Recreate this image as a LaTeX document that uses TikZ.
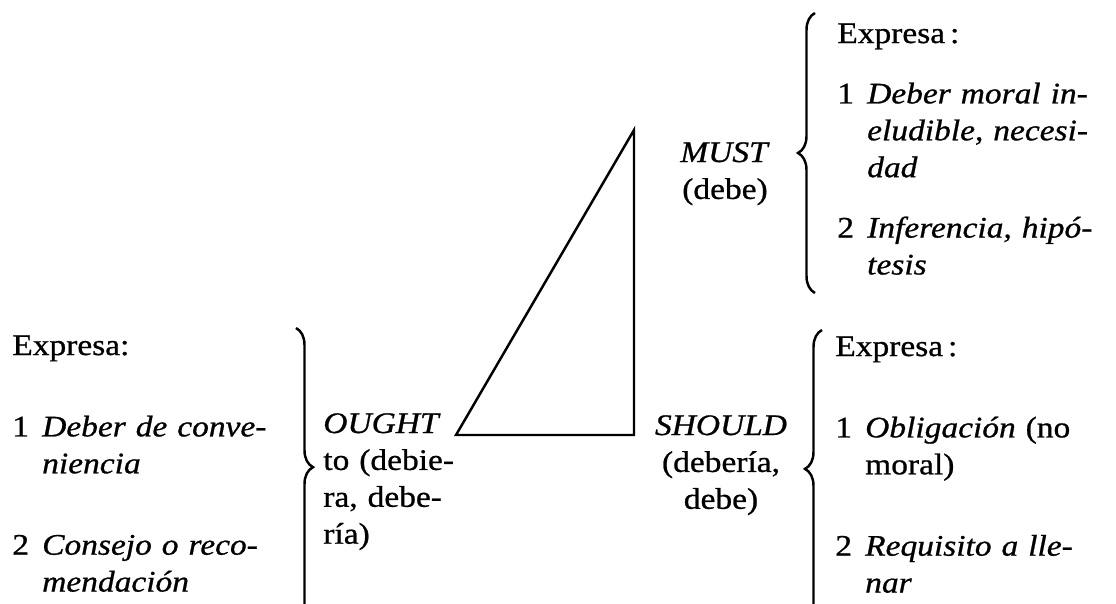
\documentclass[tikz,border=0pt]{standalone}
\usepackage{fontspec}
\setmainfont[FakeStretch=1.12,FakeBold=0.8]{Liberation Serif}
\usepackage{tikz}
\usetikzlibrary{decorations.pathreplacing}
\newcommand{\itm}[2]{\makebox[1em][l]{#1}\makebox[\dimexpr\linewidth-1em\relax][s]{#2}}
\newcommand{\cnt}[1]{\hspace*{1em}#1}
\newcommand{\cntj}[1]{\hspace*{1em}\makebox[\dimexpr\linewidth-1em\relax][s]{#1}}
\newcommand{\jst}[1]{\makebox[\linewidth][s]{#1}}

\begin{document}
\begin{tikzpicture}[
  x=0.02cm,y=-0.02cm,
  txt/.style={inner sep=0pt,font=\fontsize{17}{21}\selectfont},
  blk/.style={txt,anchor=base west,text width=5.4cm,align=left},
  lbl/.style={txt,anchor=base,text width=3.2cm,align=center},
  brc/.style={decorate,decoration={brace,amplitude=0.34cm,aspect=#1},line width=1.4pt},
  brc/.default=0.5,
  tri/.style={line width=1.4pt,line join=miter}
]
\useasboundingbox (0,0) rectangle (1116,603);
\node[blk,text width=5.5cm] (lft) at (12,355)
  {Expresa:\\[0.89cm]
   \itm{1}{\textit{Deber de conve-}}\\
   \cnt{\textit{niencia}}\\[0.89cm]
   \itm{2}{\textit{Consejo o reco-}}\\
   \cnt{\textit{mendación}}};
\node[txt,anchor=base west,text width=3.04cm,align=left] (ogt) at (323,433)
  {\textit{OUGHT}\\ \jst{to (debie-}\\ \jst{ra, debe-}\\ ría)};
\node[lbl] (shl) at (721,435) {\textit{SHOULD}\\ (debería,\\ debe)};
\node[lbl] (mst) at (725,162) {\textit{MUST}\\ (debe)};
\node[blk] (rgt) at (835,356)
  {Expresa\,:\\[0.89cm]
   \itm{1}{\textit{Obligación} (no}\\
   \cnt{moral)}\\[0.89cm]
   \itm{2}{\textit{Requisito a lle-}}\\
   \cnt{\textit{nar}}};
\node[blk] (tpr) at (837,43)
  {Expresa\,:\\[0.47cm]
   \itm{1}{\textit{Deber moral in-}}\\
   \cntj{\textit{eludible, necesi-}}\\
   \cnt{\textit{dad}}\\[0.47cm]
   \itm{2}{\textit{Inferencia, hipó-}}\\
   \cnt{\textit{tesis}}};
\coordinate (og) at (456,435);
\coordinate (sh) at (634,435);
\coordinate (mu) at (634,130);
\draw[tri] (og) -- (sh) -- (mu) -- cycle;
\coordinate (lb1) at (296,328);
\coordinate (lb2) at (296,640);
\draw[brc=0.446] (lb1) -- (lb2);
\coordinate (rb1) at (822,640);
\coordinate (rb2) at (822,330);
\draw[brc=0.552] (rb1) -- (rb2);
\coordinate (tb1) at (815,293);
\coordinate (tb2) at (815,13);
\draw[brc] (tb1) -- (tb2);
\end{tikzpicture}
\end{document}
